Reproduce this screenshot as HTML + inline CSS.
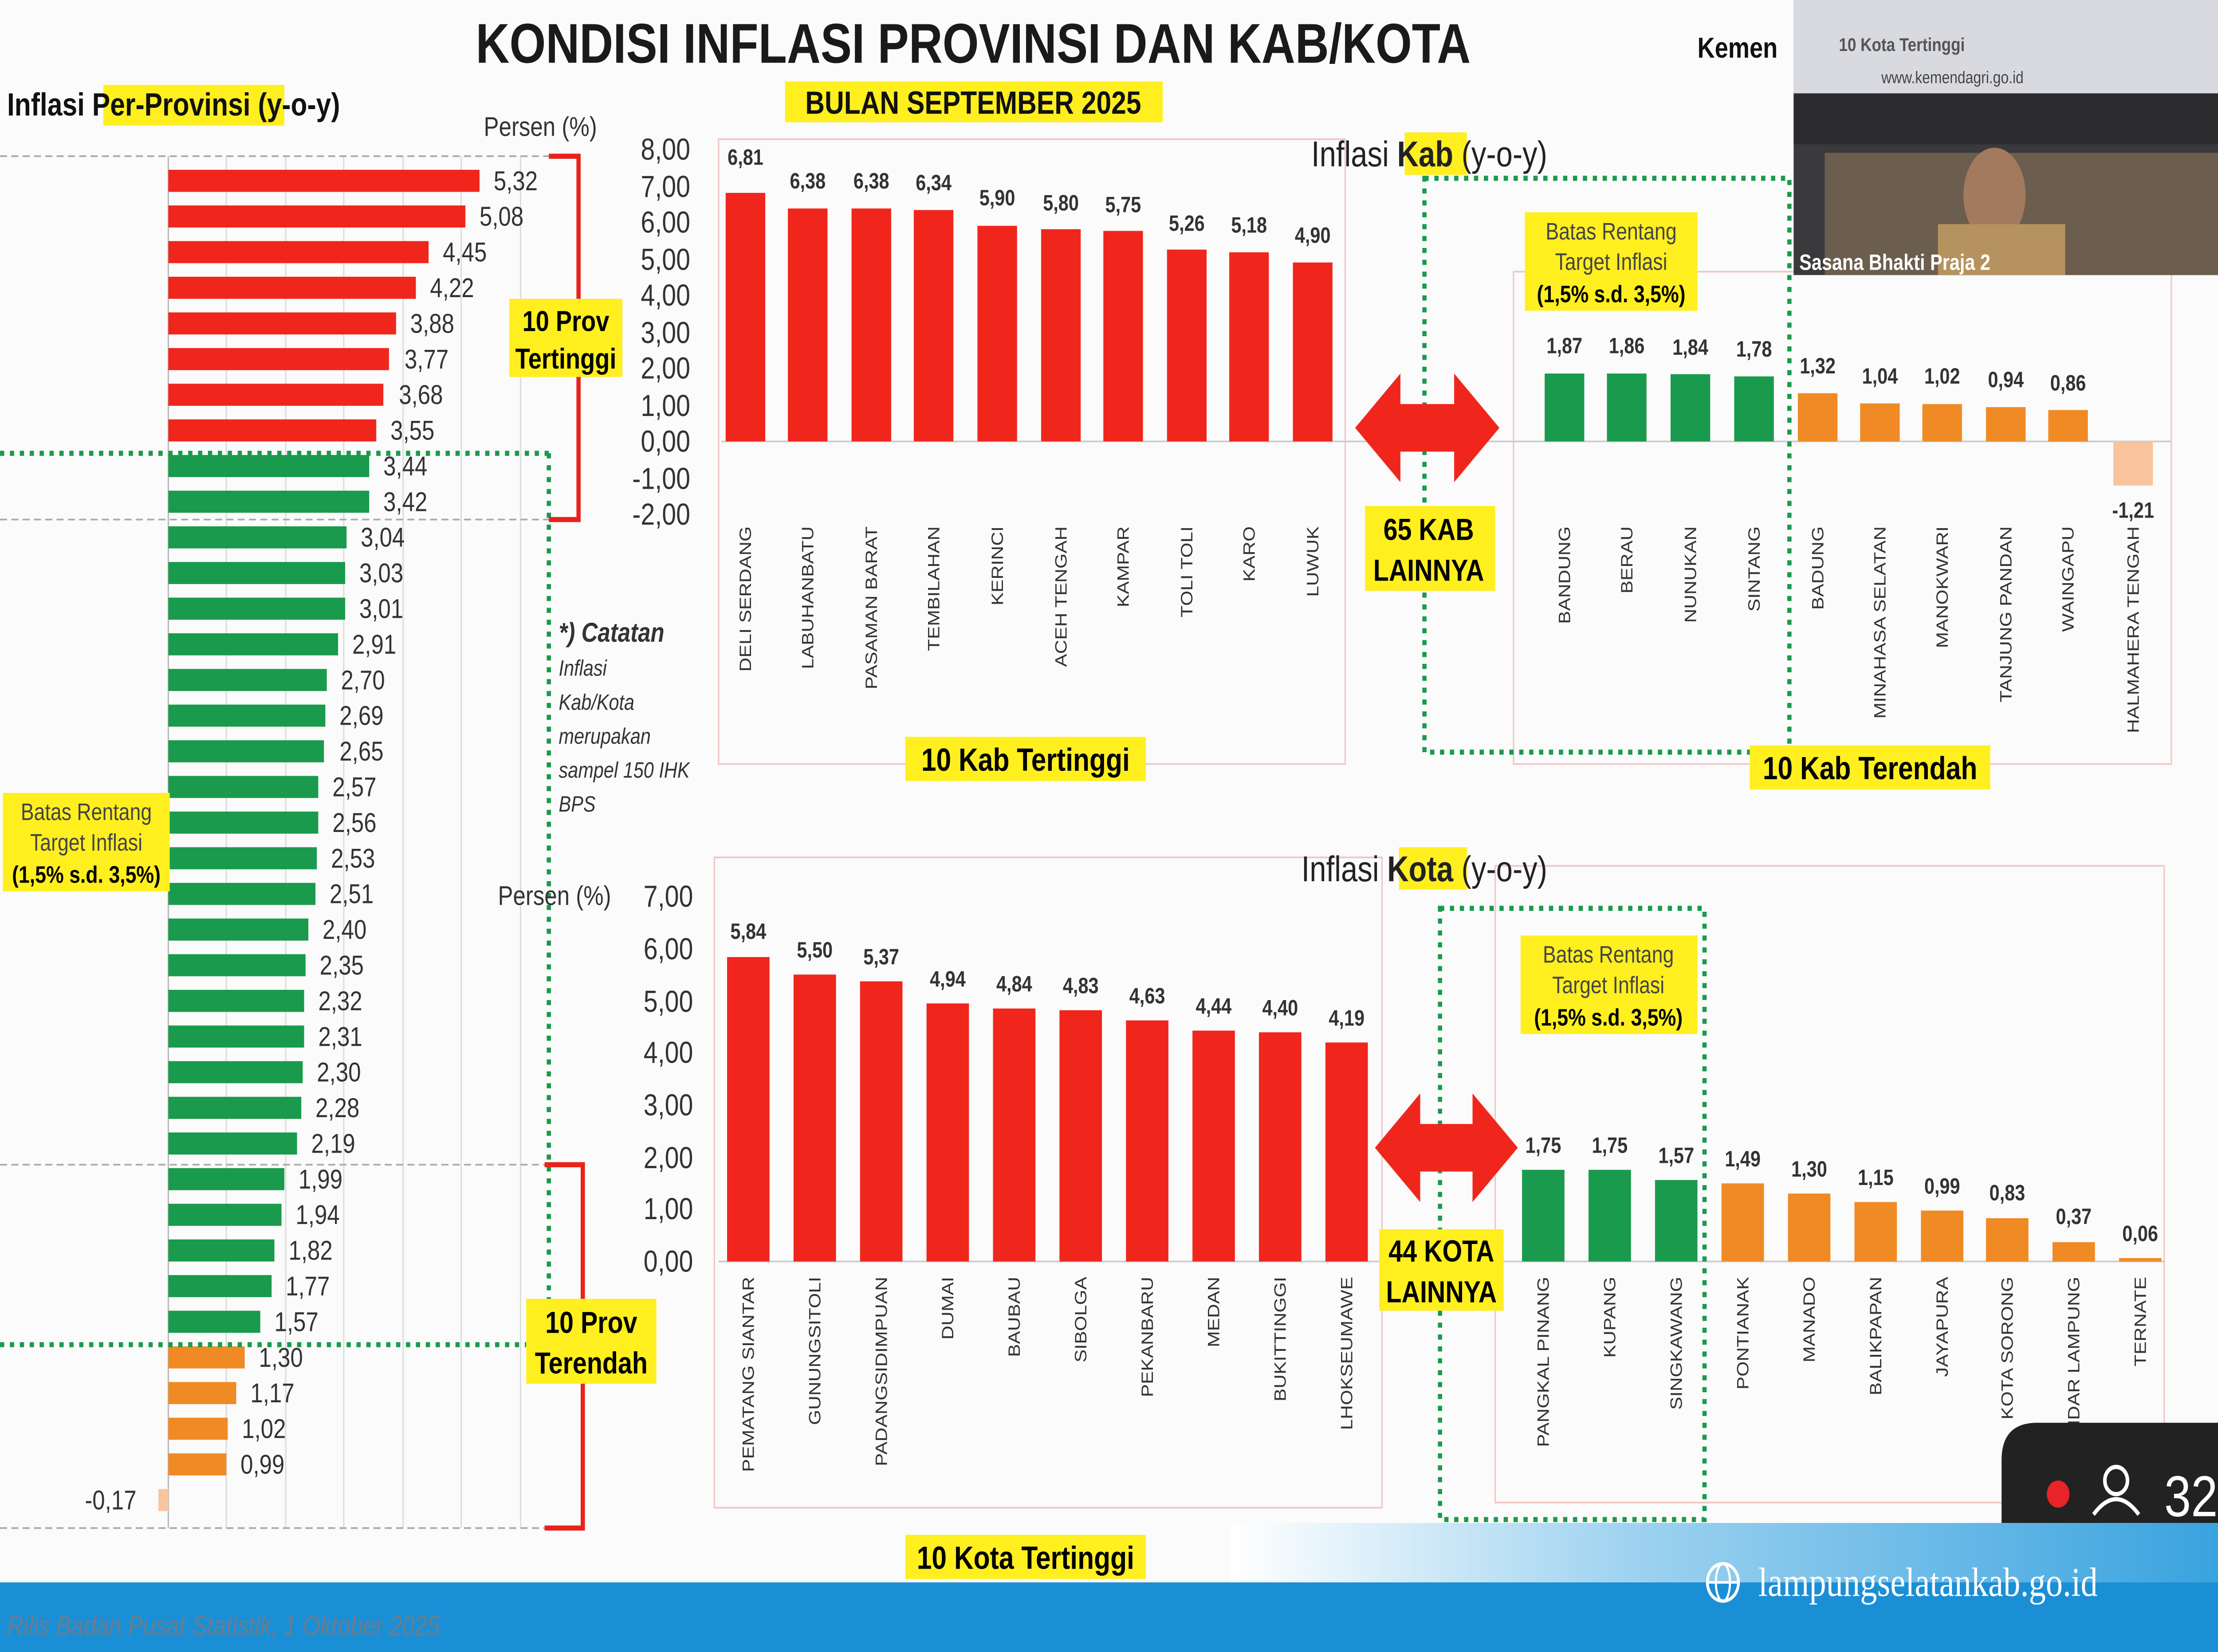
<!DOCTYPE html>
<html><head><meta charset="utf-8"><style>html,body{margin:0;padding:0;background:#fff;width:100%;height:100%;overflow:hidden}svg{display:block;width:100vw;height:100vh}</style></head>
<body>
<svg xmlns="http://www.w3.org/2000/svg" viewBox="0 0 1568 973" preserveAspectRatio="none" font-family="Liberation Sans, sans-serif">
<rect width="1568" height="973" fill="#fbfbfb"/>
<text x="688" y="37" font-size="33" font-weight="bold" text-anchor="middle" fill="#1a1a1a">KONDISI INFLASI PROVINSI DAN KAB/KOTA</text>
<rect x="555" y="48" width="267" height="24" fill="#ffef1f"/>
<text x="688" y="67" font-size="19" font-weight="bold" text-anchor="middle" fill="#111">BULAN SEPTEMBER 2025</text>
<text x="1200" y="34" font-size="17" font-weight="bold" fill="#111">Kemen</text>
<rect x="73" y="50" width="128" height="24" fill="#ffef1f"/>
<text x="5" y="68" font-size="19" font-weight="bold" fill="#111">Inflasi <tspan>Per-Provinsi</tspan> (y-o-y)</text>
<text x="342" y="80" font-size="16" fill="#333">Persen (%)</text>
<g stroke="#ddd" stroke-width="1">
<line x1="160" y1="92" x2="160" y2="900"/><line x1="202" y1="92" x2="202" y2="900"/><line x1="243" y1="92" x2="243" y2="900"/><line x1="285" y1="92" x2="285" y2="900"/><line x1="326" y1="92" x2="326" y2="900"/><line x1="368" y1="92" x2="368" y2="900"/>
</g>
<line x1="119" y1="92" x2="119" y2="900" stroke="#bbb"/>
<g stroke="#aaa" stroke-dasharray="5,3" stroke-width="1">
<line x1="0" y1="92" x2="390" y2="92"/><line x1="0" y1="306" x2="390" y2="306"/><line x1="0" y1="686" x2="390" y2="686"/><line x1="0" y1="900" x2="390" y2="900"/>
</g>
<g fill="#f0261c">
<rect x="119" y="100" width="220" height="13"/><rect x="119" y="121" width="210" height="13"/><rect x="119" y="142" width="184" height="13"/><rect x="119" y="163" width="175" height="13"/><rect x="119" y="184" width="161" height="13"/><rect x="119" y="205" width="156" height="13"/><rect x="119" y="226" width="152" height="13"/><rect x="119" y="247" width="147" height="13"/>
</g>
<g fill="#1a9a4c">
<rect x="119" y="268" width="142" height="13"/><rect x="119" y="289" width="142" height="13"/><rect x="119" y="310" width="126" height="13"/><rect x="119" y="331" width="125" height="13"/><rect x="119" y="352" width="125" height="13"/><rect x="119" y="373" width="120" height="13"/><rect x="119" y="394" width="112" height="13"/><rect x="119" y="415" width="111" height="13"/><rect x="119" y="436" width="110" height="13"/><rect x="119" y="457" width="106" height="13"/><rect x="119" y="478" width="106" height="13"/><rect x="119" y="499" width="105" height="13"/><rect x="119" y="520" width="104" height="13"/><rect x="119" y="541" width="99" height="13"/><rect x="119" y="562" width="97" height="13"/><rect x="119" y="583" width="96" height="13"/><rect x="119" y="604" width="96" height="13"/><rect x="119" y="625" width="95" height="13"/><rect x="119" y="646" width="94" height="13"/><rect x="119" y="667" width="91" height="13"/><rect x="119" y="688" width="82" height="13"/><rect x="119" y="709" width="80" height="13"/><rect x="119" y="730" width="75" height="13"/><rect x="119" y="751" width="73" height="13"/><rect x="119" y="772" width="65" height="13"/>
</g>
<g fill="#f08a24">
<rect x="119" y="793" width="54" height="13"/><rect x="119" y="814" width="48" height="13"/><rect x="119" y="835" width="42" height="13"/><rect x="119" y="856" width="41" height="13"/>
</g>
<rect x="112" y="877" width="7" height="13" fill="#f8c49e"/>
<g font-size="16" fill="#333">
<text x="349" y="112">5,32</text><text x="339" y="133">5,08</text><text x="313" y="154">4,45</text><text x="304" y="175">4,22</text><text x="290" y="196">3,88</text><text x="286" y="217">3,77</text><text x="282" y="238">3,68</text><text x="276" y="259">3,55</text>
<text x="271" y="280">3,44</text><text x="271" y="301">3,42</text><text x="255" y="322">3,04</text><text x="254" y="343">3,03</text><text x="254" y="364">3,01</text><text x="249" y="385">2,91</text><text x="241" y="406">2,70</text><text x="240" y="427">2,69</text><text x="240" y="448">2,65</text><text x="235" y="469">2,57</text><text x="235" y="490">2,56</text><text x="234" y="511">2,53</text><text x="233" y="532">2,51</text><text x="228" y="553">2,40</text><text x="226" y="574">2,35</text><text x="225" y="595">2,32</text><text x="225" y="616">2,31</text><text x="224" y="637">2,30</text><text x="223" y="658">2,28</text><text x="220" y="679">2,19</text><text x="211" y="700">1,99</text><text x="209" y="721">1,94</text><text x="204" y="742">1,82</text><text x="202" y="763">1,77</text><text x="194" y="784">1,57</text>
<text x="183" y="805">1,30</text><text x="177" y="826">1,17</text><text x="171" y="847">1,02</text><text x="170" y="868">0,99</text><text x="60" y="889">-0,17</text>
</g>
<g stroke="#1a9a4c" stroke-width="3" stroke-dasharray="3,4" fill="none">
<line x1="0" y1="267" x2="390" y2="267"/><line x1="0" y1="792" x2="372" y2="792"/><line x1="388" y1="267" x2="388" y2="792"/>
</g>
<g stroke="#e8231b" stroke-width="3" fill="none">
<polyline points="388,92 409,92 409,306 388,306"/><polyline points="385,686 412,686 412,900 385,900"/>
</g>
<rect x="360" y="176" width="80" height="46" fill="#ffef1f"/>
<text x="400" y="195" font-size="17" font-weight="bold" text-anchor="middle">10 Prov</text>
<text x="400" y="217" font-size="17" font-weight="bold" text-anchor="middle">Tertinggi</text>
<rect x="372" y="765" width="92" height="50" fill="#ffef1f"/>
<text x="418" y="785" font-size="18" font-weight="bold" text-anchor="middle">10 Prov</text>
<text x="418" y="809" font-size="18" font-weight="bold" text-anchor="middle">Terendah</text>
<rect x="2" y="467" width="118" height="58" fill="#ffef1f"/>
<text x="61" y="483" font-size="14" text-anchor="middle" fill="#444">Batas Rentang</text>
<text x="61" y="501" font-size="14" text-anchor="middle" fill="#444">Target Inflasi</text>
<text x="61" y="520" font-size="14" font-weight="bold" text-anchor="middle">(1,5% s.d. 3,5%)</text>
<g font-style="italic" fill="#333">
<text x="395" y="378" font-size="16" font-weight="bold">*) Catatan</text>
<text x="395" y="398" font-size="13">Inflasi</text><text x="395" y="418" font-size="13">Kab/Kota</text><text x="395" y="438" font-size="13">merupakan</text><text x="395" y="458" font-size="13">sampel 150 IHK</text><text x="395" y="478" font-size="13">BPS</text>
</g>
<rect x="508" y="82" width="443" height="368" fill="none" stroke="#f1c6c6"/>
<rect x="1070" y="160" width="465" height="290" fill="none" stroke="#f1c6c6"/>
<rect x="993" y="78" width="44" height="25" fill="#ffef1f"/>
<text x="927" y="98" font-size="21" fill="#222">Inflasi <tspan font-weight="bold">Kab</tspan> (y-o-y)</text>
<g font-size="18" fill="#333" text-anchor="end">
<text x="488" y="94">8,00</text><text x="488" y="116">7,00</text><text x="488" y="137">6,00</text><text x="488" y="159">5,00</text><text x="488" y="180">4,00</text><text x="488" y="202">3,00</text><text x="488" y="223">2,00</text><text x="488" y="245">1,00</text><text x="488" y="266">0,00</text><text x="488" y="288">-1,00</text><text x="488" y="309">-2,00</text>
</g>
<line x1="510" y1="260" x2="1535" y2="260" stroke="#ccc"/>
<g fill="#f0261c">
<rect x="513" y="113.6" width="28" height="146.4"/><rect x="557" y="122.8" width="28" height="137.2"/><rect x="602" y="122.8" width="28" height="137.2"/><rect x="646" y="123.7" width="28" height="136.3"/><rect x="691" y="133" width="28" height="127"/><rect x="736" y="135" width="28" height="125"/><rect x="780" y="136" width="28" height="124"/><rect x="825" y="147" width="28" height="113"/><rect x="869" y="148.6" width="28" height="111.4"/><rect x="914" y="154.6" width="28" height="105.4"/>
</g>
<g fill="#1a9a4c"><rect x="1092" y="220" width="28" height="40"/><rect x="1136" y="220" width="28" height="40"/><rect x="1181" y="220.4" width="28" height="39.6"/><rect x="1226" y="221.7" width="28" height="38.3"/></g>
<g fill="#f08a24"><rect x="1271" y="231.6" width="28" height="28.4"/><rect x="1315" y="237.6" width="28" height="22.4"/><rect x="1359" y="238" width="28" height="22"/><rect x="1404" y="239.8" width="28" height="20.2"/><rect x="1448" y="241.5" width="28" height="18.5"/></g>
<rect x="1494" y="260" width="28" height="26" fill="#f8c49e"/>
<g font-size="13" font-weight="bold" fill="#333" text-anchor="middle">
<text x="527" y="97">6,81</text><text x="571" y="111">6,38</text><text x="616" y="111">6,38</text><text x="660" y="112">6,34</text><text x="705" y="121">5,90</text><text x="750" y="124">5,80</text><text x="794" y="125">5,75</text><text x="839" y="136">5,26</text><text x="883" y="137">5,18</text><text x="928" y="143">4,90</text>
<text x="1106" y="208">1,87</text><text x="1150" y="208">1,86</text><text x="1195" y="209">1,84</text><text x="1240" y="210">1,78</text><text x="1285" y="220">1,32</text><text x="1329" y="226">1,04</text><text x="1373" y="226">1,02</text><text x="1418" y="228">0,94</text><text x="1462" y="230">0,86</text><text x="1508" y="305">-1,21</text>
</g>
<g font-size="11.5" fill="#333" text-anchor="end">
<text transform="translate(531,310) rotate(-90)">DELI SERDANG</text><text transform="translate(575,310) rotate(-90)">LABUHANBATU</text><text transform="translate(620,310) rotate(-90)">PASAMAN BARAT</text><text transform="translate(664,310) rotate(-90)">TEMBILAHAN</text><text transform="translate(709,310) rotate(-90)">KERINCI</text><text transform="translate(754,310) rotate(-90)">ACEH TENGAH</text><text transform="translate(798,310) rotate(-90)">KAMPAR</text><text transform="translate(843,310) rotate(-90)">TOLI TOLI</text><text transform="translate(887,310) rotate(-90)">KARO</text><text transform="translate(932,310) rotate(-90)">LUWUK</text>
<text transform="translate(1110,310) rotate(-90)">BANDUNG</text><text transform="translate(1154,310) rotate(-90)">BERAU</text><text transform="translate(1199,310) rotate(-90)">NUNUKAN</text><text transform="translate(1244,310) rotate(-90)">SINTANG</text><text transform="translate(1289,310) rotate(-90)">BADUNG</text><text transform="translate(1333,310) rotate(-90)">MINAHASA SELATAN</text><text transform="translate(1377,310) rotate(-90)">MANOKWARI</text><text transform="translate(1422,310) rotate(-90)">TANJUNG PANDAN</text><text transform="translate(1466,310) rotate(-90)">WAINGAPU</text><text transform="translate(1512,310) rotate(-90)">HALMAHERA TENGAH</text>
</g>
<rect x="1007" y="105" width="258" height="338" fill="none" stroke="#1a9a4c" stroke-width="3" stroke-dasharray="3,4"/>
<rect x="1078" y="125" width="122" height="58" fill="#ffef1f"/>
<text x="1139" y="141" font-size="14" text-anchor="middle" fill="#444">Batas Rentang</text>
<text x="1139" y="159" font-size="14" text-anchor="middle" fill="#444">Target Inflasi</text>
<text x="1139" y="178" font-size="14" font-weight="bold" text-anchor="middle">(1,5% s.d. 3,5%)</text>
<polygon points="958,252 990,220 990,238 1028,238 1028,220 1060,252 1028,284 1028,266 990,266 990,284" fill="#f0261c"/>
<rect x="965" y="298" width="92" height="50" fill="#ffef1f"/>
<text x="1010" y="318" font-size="18" font-weight="bold" text-anchor="middle">65 KAB</text>
<text x="1010" y="342" font-size="18" font-weight="bold" text-anchor="middle">LAINNYA</text>
<rect x="640" y="434" width="170" height="26" fill="#ffef1f"/>
<text x="725" y="454" font-size="19" font-weight="bold" text-anchor="middle">10 Kab Tertinggi</text>
<rect x="1237" y="439" width="170" height="26" fill="#ffef1f"/>
<text x="1322" y="459" font-size="19" font-weight="bold" text-anchor="middle">10 Kab Terendah</text>
<rect x="505" y="505" width="472" height="383" fill="none" stroke="#f1c6c6"/>
<rect x="1057" y="510" width="473" height="375" fill="none" stroke="#f1c6c6"/>
<rect x="989" y="499" width="48" height="25" fill="#ffef1f"/>
<text x="920" y="519" font-size="21" fill="#222">Inflasi <tspan font-weight="bold">Kota</tspan> (y-o-y)</text>
<text x="352" y="533" font-size="16" fill="#333">Persen (%)</text>
<g font-size="18" fill="#333" text-anchor="end">
<text x="490" y="534">7,00</text><text x="490" y="565">6,00</text><text x="490" y="596">5,00</text><text x="490" y="626">4,00</text><text x="490" y="657">3,00</text><text x="490" y="688">2,00</text><text x="490" y="718">1,00</text><text x="490" y="749">0,00</text>
</g>
<line x1="508" y1="743" x2="1530" y2="743" stroke="#ccc"/>
<g fill="#f0261c">
<rect x="514" y="563.7" width="30" height="179.3"/><rect x="561" y="574" width="30" height="169"/><rect x="608" y="578" width="30" height="165"/><rect x="655" y="591" width="30" height="152"/><rect x="702" y="594" width="30" height="149"/><rect x="749" y="595" width="30" height="148"/><rect x="796" y="601" width="30" height="142"/><rect x="843" y="607" width="30" height="136"/><rect x="890" y="608" width="30" height="135"/><rect x="937" y="614" width="30" height="129"/>
</g>
<g fill="#1a9a4c"><rect x="1076" y="689" width="30" height="54"/><rect x="1123" y="689" width="30" height="54"/><rect x="1170" y="695" width="30" height="48"/></g>
<g fill="#f08a24"><rect x="1217" y="697" width="30" height="46"/><rect x="1264" y="703" width="30" height="40"/><rect x="1311" y="708" width="30" height="35"/><rect x="1358" y="713" width="30" height="30"/><rect x="1404" y="717.5" width="30" height="25.5"/><rect x="1451" y="731.6" width="30" height="11.4"/><rect x="1498" y="741" width="30" height="2"/></g>
<g font-size="13" font-weight="bold" fill="#333" text-anchor="middle">
<text x="529" y="553">5,84</text><text x="576" y="564">5,50</text><text x="623" y="568">5,37</text><text x="670" y="581">4,94</text><text x="717" y="584">4,84</text><text x="764" y="585">4,83</text><text x="811" y="591">4,63</text><text x="858" y="597">4,44</text><text x="905" y="598">4,40</text><text x="952" y="604">4,19</text>
<text x="1091" y="679">1,75</text><text x="1138" y="679">1,75</text><text x="1185" y="685">1,57</text><text x="1232" y="687">1,49</text><text x="1279" y="693">1,30</text><text x="1326" y="698">1,15</text><text x="1373" y="703">0,99</text><text x="1419" y="707">0,83</text><text x="1466" y="721">0,37</text><text x="1513" y="731">0,06</text>
</g>
<g font-size="11.5" fill="#333" text-anchor="end">
<text transform="translate(533,752) rotate(-90)">PEMATANG SIANTAR</text><text transform="translate(580,752) rotate(-90)">GUNUNGSITOLI</text><text transform="translate(627,752) rotate(-90)">PADANGSIDIMPUAN</text><text transform="translate(674,752) rotate(-90)">DUMAI</text><text transform="translate(721,752) rotate(-90)">BAUBAU</text><text transform="translate(768,752) rotate(-90)">SIBOLGA</text><text transform="translate(815,752) rotate(-90)">PEKANBARU</text><text transform="translate(862,752) rotate(-90)">MEDAN</text><text transform="translate(909,752) rotate(-90)">BUKITTINGGI</text><text transform="translate(956,752) rotate(-90)">LHOKSEUMAWE</text>
<text transform="translate(1095,752) rotate(-90)">PANGKAL PINANG</text><text transform="translate(1142,752) rotate(-90)">KUPANG</text><text transform="translate(1189,752) rotate(-90)">SINGKAWANG</text><text transform="translate(1236,752) rotate(-90)">PONTIANAK</text><text transform="translate(1283,752) rotate(-90)">MANADO</text><text transform="translate(1330,752) rotate(-90)">BALIKPAPAN</text><text transform="translate(1377,752) rotate(-90)">JAYAPURA</text><text transform="translate(1423,752) rotate(-90)">KOTA SORONG</text><text transform="translate(1470,752) rotate(-90)">BANDAR LAMPUNG</text><text transform="translate(1517,752) rotate(-90)">TERNATE</text>
</g>
<rect x="1018" y="535" width="187" height="360" fill="none" stroke="#1a9a4c" stroke-width="3" stroke-dasharray="3,4"/>
<rect x="1075" y="551" width="125" height="58" fill="#ffef1f"/>
<text x="1137" y="567" font-size="14" text-anchor="middle" fill="#444">Batas Rentang</text>
<text x="1137" y="585" font-size="14" text-anchor="middle" fill="#444">Target Inflasi</text>
<text x="1137" y="604" font-size="14" font-weight="bold" text-anchor="middle">(1,5% s.d. 3,5%)</text>
<polygon points="972,676 1004,644 1004,662 1041,662 1041,644 1073,676 1041,708 1041,690 1004,690 1004,708" fill="#f0261c"/>
<rect x="975" y="724" width="88" height="48" fill="#ffef1f"/>
<text x="1019" y="743" font-size="18" font-weight="bold" text-anchor="middle">44 KOTA</text>
<text x="1019" y="767" font-size="18" font-weight="bold" text-anchor="middle">LAINNYA</text>
<rect x="640" y="904" width="170" height="26" fill="#ffef1f"/>
<text x="725" y="924" font-size="19" font-weight="bold" text-anchor="middle">10 Kota Tertinggi</text>
<rect x="1268" y="0" width="300" height="162" fill="#3a3a3c"/>
<rect x="1268" y="0" width="300" height="55" fill="#d9dadf"/>
<text x="1300" y="30" font-size="11" font-weight="bold" fill="#555">10 Kota Tertinggi</text>
<text x="1330" y="49" font-size="10" fill="#444">www.kemendagri.go.id</text>
<rect x="1268" y="55" width="300" height="30" fill="#2b2b2e"/>
<rect x="1290" y="90" width="278" height="72" fill="#6b5e4e"/>
<ellipse cx="1410" cy="115" rx="22" ry="28" fill="#a37a5e"/>
<rect x="1370" y="132" width="90" height="30" fill="#b5925e"/>
<text x="1272" y="159" font-size="13" font-weight="bold" fill="#fff">Sasana Bhakti Praja 2</text>
<defs><linearGradient id="g1" x1="0" x2="1"><stop offset="0" stop-color="#ffffff"/><stop offset="0.4" stop-color="#9fd3f0"/><stop offset="1" stop-color="#3aa3df"/></linearGradient></defs>
<rect x="870" y="897" width="698" height="36" fill="url(#g1)"/>
<path d="M1415,897 L1415,860 Q1415,838 1440,838 L1568,838 L1568,897 Z" fill="#222"/>
<circle cx="1455" cy="880" r="8" fill="#e8232a"/>
<circle cx="1496" cy="872" r="8" fill="none" stroke="#fff" stroke-width="2.5"/>
<path d="M1480,892 Q1496,874 1512,892" fill="none" stroke="#fff" stroke-width="2.5"/>
<text x="1530" y="893" font-size="34" fill="#fff">32</text>
<rect x="0" y="932" width="1568" height="41" fill="#1b8fd6"/>
<text x="5" y="963" font-size="16" font-style="italic" fill="#6d7c8a">Rilis Badan Pusat Statistik, 1 Oktober 2025</text>
<circle cx="1218" cy="932" r="11" fill="none" stroke="#fff" stroke-width="2"/>
<ellipse cx="1218" cy="932" rx="5" ry="11" fill="none" stroke="#fff" stroke-width="1.5"/>
<line x1="1207" y1="932" x2="1229" y2="932" stroke="#fff" stroke-width="1.5"/>
<text x="1243" y="940" font-size="24" font-family="Liberation Serif, serif" fill="#fff">lampungselatankab.go.id</text>
</svg>
</body></html>
